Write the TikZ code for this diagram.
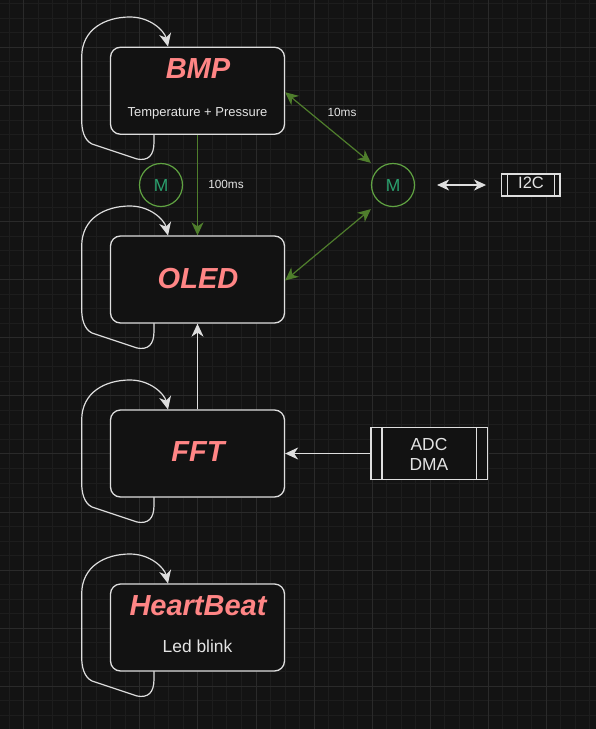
\documentclass[tikz,border=0pt]{standalone}
\usepackage{fontspec}
\setmainfont{Liberation Sans}
\usetikzlibrary{arrows.meta,calc}
\definecolor{bgc}{HTML}{131313}
\definecolor{gridminor}{HTML}{1D1D1D}
\definecolor{gridmajor}{HTML}{2A2A2A}
\definecolor{boxfill}{HTML}{121212}
\definecolor{boxline}{HTML}{DEDEDE}
\definecolor{txt}{HTML}{E4E4E4}
\definecolor{titlec}{HTML}{FF8585}
\definecolor{gline}{HTML}{4F7E2C}
\definecolor{gcirc}{HTML}{60A342}
\definecolor{mtext}{HTML}{2BA06E}
\begin{document}
\begin{tikzpicture}[x=1pt,y=-1pt,
  statebox/.style={draw=boxline, line width=1.3pt, fill=boxfill, rounded corners=10pt,
    minimum width=174pt, minimum height=87pt, inner sep=0pt},
  titletext/.style={font=\fontsize{29}{30}\selectfont\bfseries\itshape, text=titlec, anchor=base, inner sep=0pt},
  subtext/.style={text=txt, anchor=base, inner sep=0pt},
  proc/.style={draw=boxline, line width=1.2pt, fill=boxfill, inner sep=0pt},
  mcirc/.style={circle, draw=gcirc, line width=1.2pt, minimum size=43pt, inner sep=0pt},
  mlabel/.style={text=mtext, font=\fontsize{17.4}{18}\selectfont, anchor=base, inner sep=0pt},
  garrow/.style={draw=gline, line width=1.2pt, -{Stealth[length=13pt,width=12pt,inset=4pt]}},
  garrowboth/.style={draw=gline, line width=1.2pt, {Stealth[length=13pt,width=12pt,inset=4pt]}-{Stealth[length=13pt,width=12pt,inset=4pt]}},
  warrow/.style={draw=boxline, line width=1.2pt, -{Stealth[length=13pt,width=12pt,inset=4pt]}},
  warrowboth/.style={draw=boxline, line width=1.2pt, {Stealth[length=12pt,width=11pt,inset=3.5pt]}-{Stealth[length=12pt,width=11pt,inset=3.5pt]}},
  loopline/.style={draw=boxline, line width=1.2pt, -{Stealth[length=13pt,width=12pt,inset=4pt]}},
  gridminorline/.style={draw=gridminor, line width=0.8pt},
  gridmajorline/.style={draw=gridmajor, line width=0.8pt},
  smalllabel/.style={text=txt, font=\fontsize{11.8}{12}\selectfont, anchor=base, inner sep=0pt}
]
\useasboundingbox (0,0) rectangle (596,729);
\fill[bgc] (0,0) rectangle (596,729);
\begin{scope}
\clip (0,0) rectangle (596,729);
\foreach \i in {-2,...,41} \draw[gridminorline] ({23.6+\i*14.52},0) -- ++(0,729);
\foreach \i in {-3,...,48} \draw[gridminorline] (0,{47.3+\i*14.52}) -- ++(596,0);
\foreach \i in {-1,...,10} \draw[gridmajorline] ({23.6+\i*58.08},0) -- ++(0,729);
\foreach \i in {-1,...,12} \draw[gridmajorline] (0,{47.3+\i*58.08}) -- ++(596,0);
\end{scope}

% self loops (drawn relative to each box's south-west corner)
\newcommand\selfloop[1]{%
  \begin{scope}[shift={(#1)}]
  \draw[loopline] (43.5,0) -- (43.5,8)
    .. controls (43.5,22) and (37.5,27) .. (26.5,25)
    -- (-18.5,10)
    .. controls (-26.5,6) and (-28.8,-4) .. (-28.8,-14)
    -- (-28.8,-77)
    .. controls (-28.8,-105) and (-5,-117) .. (19.5,-117)
    .. controls (40,-117) and (54,-103) .. (57.5,-87.5);
  \end{scope}}
\selfloop{110.5,134}
\selfloop{110.5,323}
\selfloop{110.5,497}
\selfloop{110.5,671}

% boxes
\node[statebox] (bmp) at (197.5,90.75) {};
\node[statebox] (oled) at (197.5,279.5) {};
\node[statebox] (fft) at (197.5,453.5) {};
\node[statebox] (hb) at (197.5,627.5) {};

\node[titletext] (bmpt) at (198,78.3) {BMP};
\node[subtext, font=\fontsize{13}{14}\selectfont] (bmps) at (197.5,116.7) {Temperature + Pressure};
\node[titletext] (oledt) at (198,288.3) {OLED};
\node[titletext] (fftt) at (198,461.7) {FFT};
\node[titletext] (hbt) at (198,615) {HeartBeat};
\node[subtext, font=\fontsize{17.4}{18}\selectfont] (hbs) at (197.5,652.7) {Led blink};

% M circles
\node[mcirc] (m1) at (161,185) {};
\node[mlabel] at (161,191) {M};
\node[mcirc] (m2) at (393,185) {};
\node[mlabel] at (393,191) {M};

% I2C and ADC/DMA process shapes
\node[proc, minimum width=58.3pt, minimum height=22pt] (i2c) at (530.8,185) {};
\draw[boxline, line width=1.2pt] ([xshift=6.6pt]i2c.north west) -- ([xshift=6.6pt]i2c.south west);
\draw[boxline, line width=1.2pt] ([xshift=-6pt]i2c.north east) -- ([xshift=-6pt]i2c.south east);
\node[text=txt, font=\fontsize{16.5}{17}\selectfont, anchor=base, inner sep=0pt] at (531,188.8) {I2C};

\node[proc, minimum width=116.7pt, minimum height=52pt] (adc) at (429.3,453.5) {};
\draw[boxline, line width=1.2pt] ([xshift=11.7pt]adc.north west) -- ([xshift=11.7pt]adc.south west);
\draw[boxline, line width=1.2pt] ([xshift=-11.7pt]adc.north east) -- ([xshift=-11.7pt]adc.south east);
\node[text=txt, font=\fontsize{17.4}{18}\selectfont, anchor=base, inner sep=0pt] at (429,450.7) {ADC};
\node[text=txt, font=\fontsize{17.4}{18}\selectfont, anchor=base, inner sep=0pt] at (429,470) {DMA};

% connectors
\draw[garrow] (bmp.south) -- (oled.north);
\node[smalllabel] at (226,188.3) {100ms};
\draw[garrowboth] ($(bmp.east)+(0,1.5)$) -- (m2.north -| m2.west);
\node[smalllabel] at (342,116.7) {10ms};
\draw[garrowboth] ($(oled.east)+(0,1)$) -- ($(m2.south -| m2.west)+(0,2)$);
\draw[warrowboth] ($(m2.east)+(22,0)$) -- ($(i2c.west)+(-15,0)$);
\draw[warrow] (fft.north) -- (oled.south);
\draw[warrow] (adc.west) -- (fft.east);
\end{tikzpicture}
\end{document}
